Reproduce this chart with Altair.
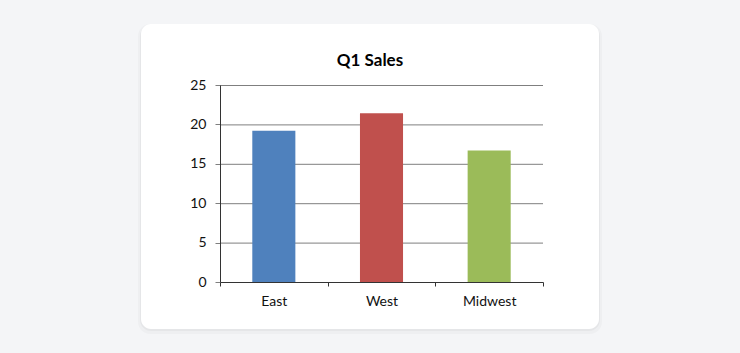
import altair as alt
import pandas as pd

regions = ["East", "West", "Midwest"]
sales = [19.2, 21.4, 16.7]
colors = ["#4F81BD", "#C0504D", "#9BBB59"]
y_ticks = [0, 5, 10, 15, 20, 25]
title_text = "Q1 Sales"

W, H = 323, 197
FONT = "Lato"
GRID = "#7f7f7f"
AXIS = "#333333"
TEXT = "#111111"

df = pd.DataFrame({"region": regions, "sales": sales})
grid_df = pd.DataFrame({"v": y_ticks})
one = pd.DataFrame({"a": [0]})

y_scale = alt.Scale(domain=[0, 25], nice=False, zero=True)
x_scale = alt.Scale(domain=regions, paddingInner=0, paddingOuter=0)

y_axis = alt.Axis(title=None, values=y_ticks, tickSize=5, tickColor=GRID,
                  domainColor=AXIS, labelFont=FONT, labelFontSize=14,
                  labelColor=TEXT, labelPadding=9, grid=False, zindex=1)

shadow1 = alt.Chart(one).mark_rect(cornerRadius=12, fill="#000000", opacity=0.025).encode(
    x=alt.value(-82), x2=alt.value(382), y=alt.value(-61), y2=alt.value(249))
shadow2 = alt.Chart(one).mark_rect(cornerRadius=11, fill="#000000", opacity=0.035).encode(
    x=alt.value(-80), x2=alt.value(380), y=alt.value(-60), y2=alt.value(246))
card = alt.Chart(one).mark_rect(cornerRadius=10, fill="#ffffff").encode(
    x=alt.value(-79), x2=alt.value(379), y=alt.value(-61), y2=alt.value(244))

grid = alt.Chart(grid_df).mark_rule(color=GRID, strokeWidth=1, yOffset=0.5).encode(
    y=alt.Y("v:Q", scale=y_scale, axis=y_axis),
    x=alt.value(0), x2=alt.value(W))

bars = alt.Chart(df).mark_bar(width=alt.RelativeBandSize(0.4)).encode(
    x=alt.X("region:N", sort=regions, scale=x_scale,
            axis=alt.Axis(title=None, labelAngle=0, tickBand="extent", tickSize=4,
                          tickColor=AXIS, domainColor=AXIS, labelFont=FONT,
                          labelFontSize=14, labelColor=TEXT, labelPadding=8,
                          grid=False, zindex=1)),
    y=alt.Y("sales:Q", scale=y_scale, axis=y_axis),
    color=alt.Color("region:N", scale=alt.Scale(domain=regions, range=colors), legend=None),
)

chart = alt.layer(shadow1, shadow2, card, grid, bars).properties(
    width=W, height=H,
    autosize=alt.AutoSizeParams(type="none"),
    padding={"left": 220, "top": 85, "right": 197, "bottom": 71},
    background="#f4f5f7",
    title=alt.TitleParams(title_text, font=FONT, fontSize=17, fontWeight="bold",
                          color="#000000", anchor="middle", frame="bounds", offset=-46),
).configure_view(stroke=None)

chart.save("out.html", embed_options={"renderer": "svg", "actions": False})
